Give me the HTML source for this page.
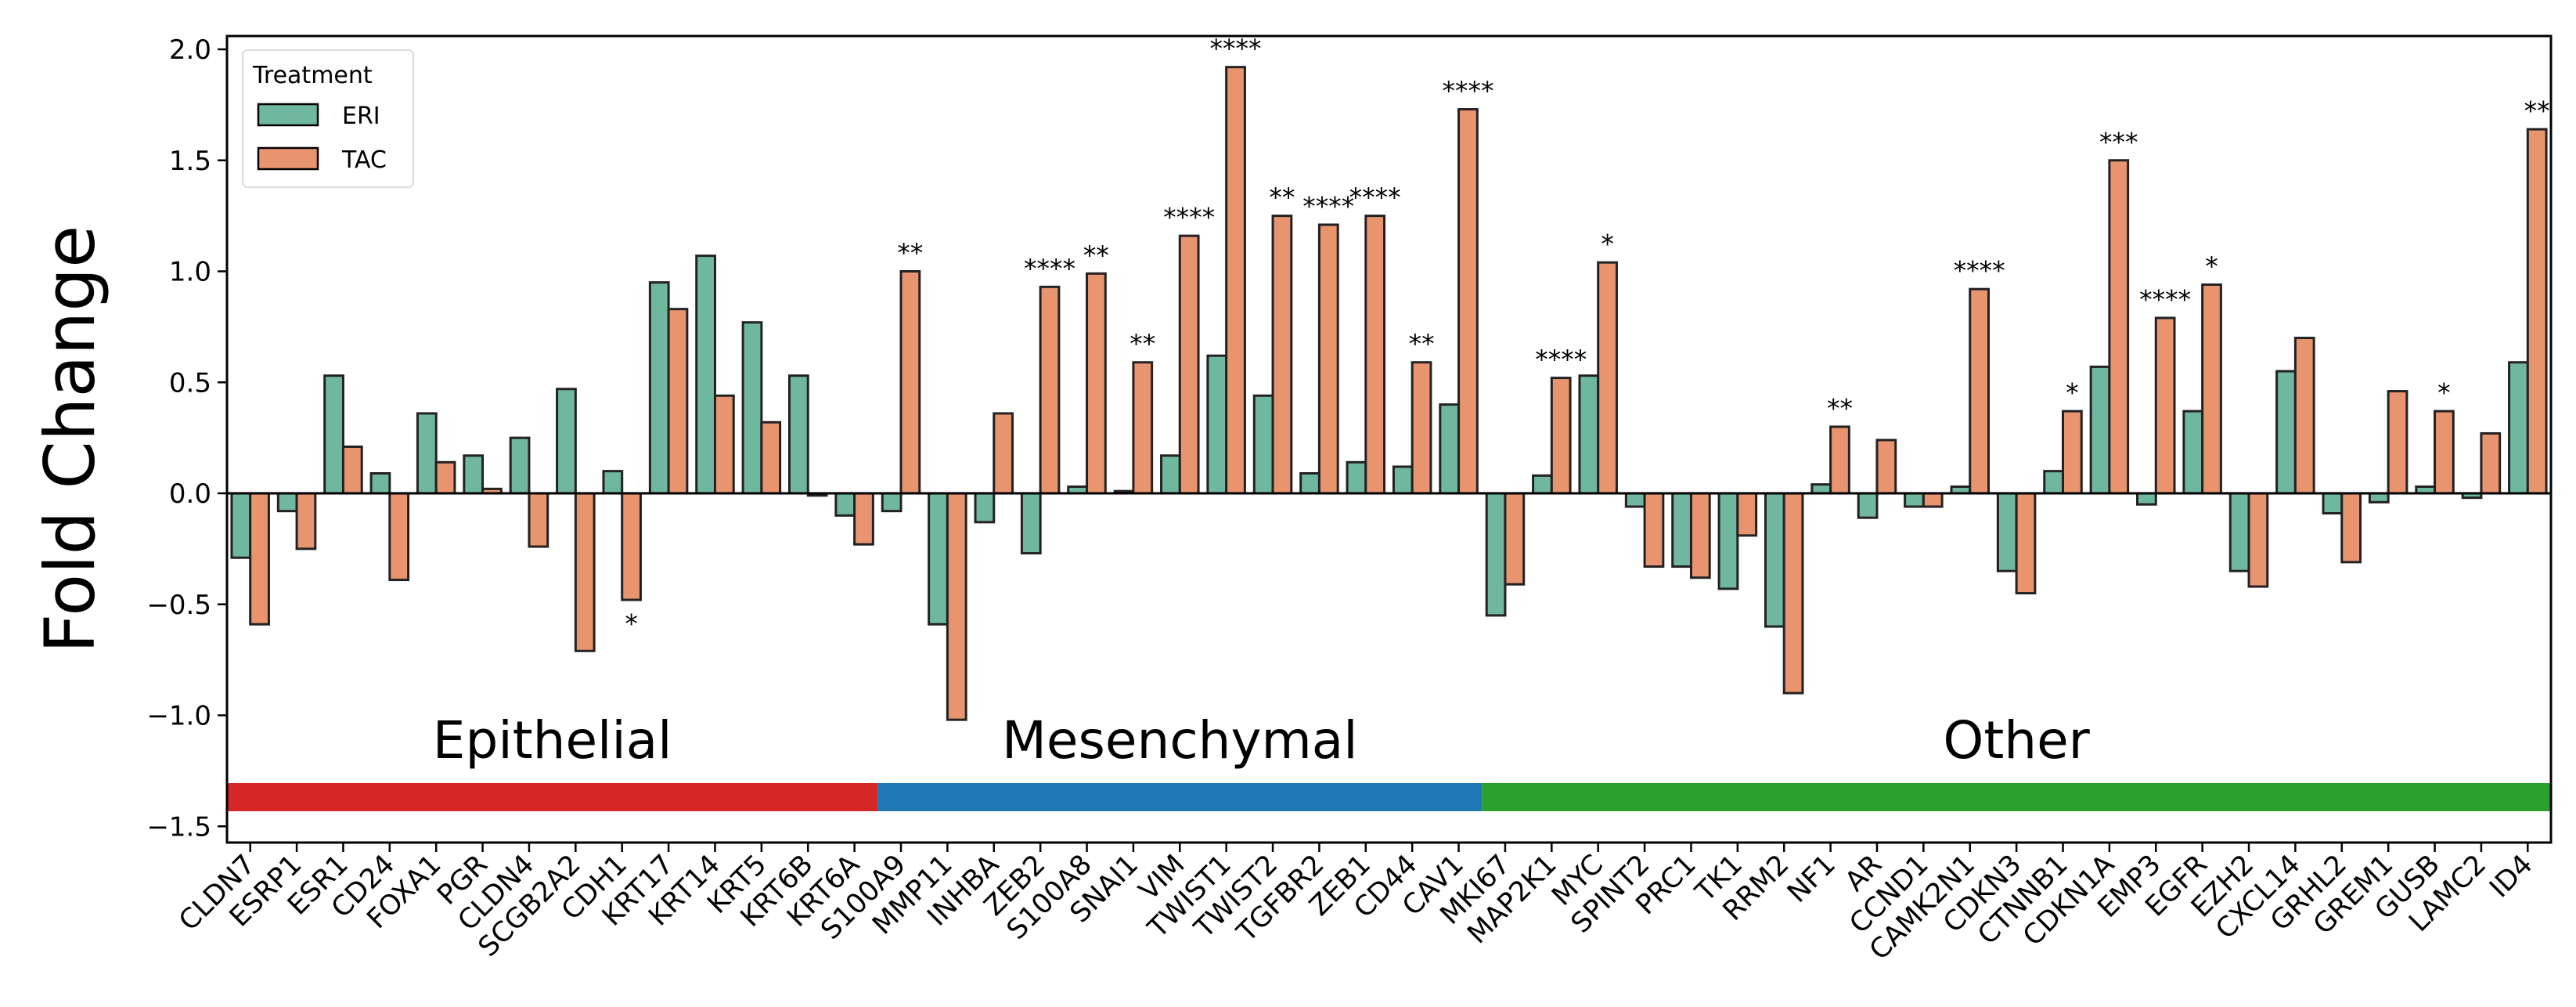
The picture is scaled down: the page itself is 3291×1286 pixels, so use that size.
<!DOCTYPE html>
<html><head><meta charset="utf-8"><style>
body{margin:0;background:#fff}
svg text{font-family:"DejaVu Sans","Liberation Sans",sans-serif}
</style></head><body>
<svg id="chart" width="3291" height="1281" xmlns="http://www.w3.org/2000/svg"></svg>
<script>
const categories=["CLDN7","ESRP1","ESR1","CD24","FOXA1","PGR","CLDN4","SCGB2A2","CDH1","KRT17","KRT14","KRT5","KRT6B","KRT6A","S100A9","MMP11","INHBA","ZEB2","S100A8","SNAI1","VIM","TWIST1","TWIST2","TGFBR2","ZEB1","CD44","CAV1","MKI67","MAP2K1","MYC","SPINT2","PRC1","TK1","RRM2","NF1","AR","CCND1","CAMK2N1","CDKN3","CTNNB1","CDKN1A","EMP3","EGFR","EZH2","CXCL14","GRHL2","GREM1","GUSB","LAMC2","ID4"];
const eriValues=[-0.29,-0.08,0.53,0.09,0.36,0.17,0.25,0.47,0.10,0.95,1.07,0.77,0.53,-0.10,-0.08,-0.59,-0.13,-0.27,0.03,0.01,0.17,0.62,0.44,0.09,0.14,0.12,0.40,-0.55,0.08,0.53,-0.06,-0.33,-0.43,-0.60,0.04,-0.11,-0.06,0.03,-0.35,0.10,0.57,-0.05,0.37,-0.35,0.55,-0.09,-0.04,0.03,-0.02,0.59];
const tacValues=[-0.59,-0.25,0.21,-0.39,0.14,0.02,-0.24,-0.71,-0.48,0.83,0.44,0.32,-0.01,-0.23,1.00,-1.02,0.36,0.93,0.99,0.59,1.16,1.92,1.25,1.21,1.25,0.59,1.73,-0.41,0.52,1.04,-0.33,-0.38,-0.19,-0.90,0.30,0.24,-0.06,0.92,-0.45,0.37,1.50,0.79,0.94,-0.42,0.70,-0.31,0.46,0.37,0.27,1.64];
const tacStars=["","","","","","","","","*","","","","","","**","","","****","**","**","****","****","**","****","****","**","****","","****","*","","","","","**","","","****","","*","***","****","*","","","","","*","","**"];
const groupNames=["Epithelial","Mesenchymal","Other"];
const groupCounts=[14,13,23];
const groupColors=["#d62728","#1f77b4","#2ca02c"];
const yTicks=[2.0,1.5,1.0,0.5,0.0,-0.5,-1.0,-1.5];

const NS="http://www.w3.org/2000/svg";
const svg=document.getElementById('chart');
const L=290,R=3259,T=46,B=1076;
const catW=(R-L)/categories.length;
const y=v=>630-v*283.5;
const xc=i=>L+catW*(i+0.5);
function mk(tag,attrs,parent){const e=document.createElementNS(NS,tag);for(const k in attrs)e.setAttribute(k,attrs[k]);(parent||svg).appendChild(e);return e;}

let start=0;
groupCounts.forEach((c,g)=>{
  const r=mk('rect',{x:L+start*catW,y:1000,width:c*catW,height:36,fill:groupColors[g]});
  
  
  const t=mk('text',{x:L+(start+c/2)*catW,y:968,'font-size':66,'text-anchor':'middle',fill:'#000','font-family':'Liberation Sans, sans-serif'});
  t.textContent=groupNames[g];
  
  
  start+=c;
});

const bw=catW*0.4;
categories.forEach((c,i)=>{
  [[eriValues[i],'#70b7a0',-1,'eri'],[tacValues[i],'#e8946f',0,'tac']].forEach(([v,col,off,s])=>{
    const x0=xc(i)+off*bw;
    const r=mk('rect',{x:x0,y:Math.min(y(v),y(0)),width:bw,height:Math.max(1,Math.abs(y(v)-y(0))),fill:col,stroke:'#222','stroke-width':3});
    
    
  });
  if(tacStars[i]){
    const v=tacValues[i];
    const ty=v>=0?y(v)-12:y(v)+42;
    const t=mk('text',{x:xc(i)+bw/2,y:ty,'font-size':33,'text-anchor':'middle',fill:'#000'});
    t.textContent=tacStars[i];
    
    
  }
  mk('line',{x1:xc(i),x2:xc(i),y1:B,y2:B+12,stroke:'#000','stroke-width':2.5});
  const lb=mk('text',{transform:`translate(${xc(i)+8},${B+30}) rotate(-45)`,'font-size':35,'text-anchor':'end',fill:'#000'});
  lb.textContent=c;
  
  
});

mk('line',{x1:L,x2:R,y1:y(0),y2:y(0),stroke:'#000','stroke-width':3});

yTicks.forEach(v=>{
  mk('line',{x1:L-12,x2:L,y1:y(v),y2:y(v),stroke:'#000','stroke-width':2.5});
  const t=mk('text',{x:L-20,y:y(v)+12,'font-size':34,'text-anchor':'end',fill:'#000'});
  t.textContent=(v<0?'\u2212':'')+Math.abs(v).toFixed(1);
  
  
});

const fr=mk('rect',{x:L,y:T,width:R-L,height:B-T,fill:'none',stroke:'#000','stroke-width':3});



const yt=mk('text',{transform:`translate(120,${(T+B)/2}) rotate(-90)`,'font-size':88,'text-anchor':'middle',fill:'#000','font-family':'Liberation Sans, sans-serif'});
yt.textContent='Fold Change';



const lg=mk('g',{});


mk('rect',{x:310,y:64,width:218,height:175,rx:6,fill:'#fff',stroke:'#ddd','stroke-width':2},lg);
const lt=mk('text',{x:323,y:106,'font-size':30,fill:'#000'},lg);lt.textContent='Treatment';
[['ERI','#70b7a0',133],['TAC','#e8946f',189]].forEach(([n,c,yy])=>{
  const p=mk('rect',{x:330,y:yy,width:76,height:27,fill:c,stroke:'#000','stroke-width':2.5},lg);
  
  
  const t=mk('text',{x:437,y:yy+25,'font-size':30,fill:'#000'},lg);t.textContent=n;
});
</script>
</body></html>
